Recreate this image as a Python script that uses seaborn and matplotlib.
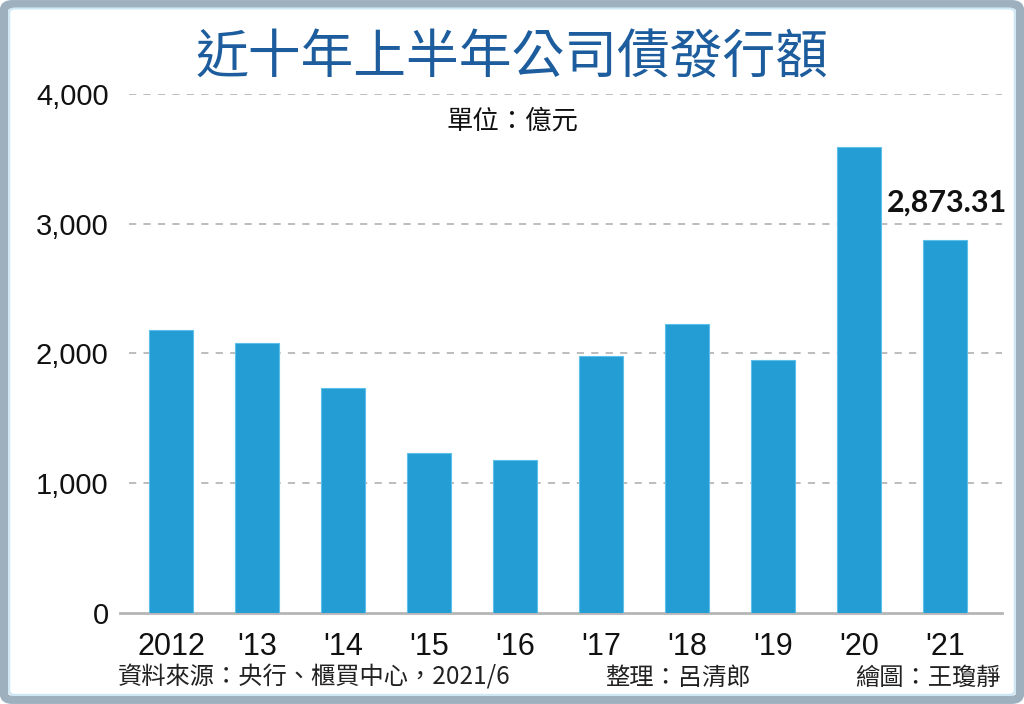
import matplotlib
matplotlib.use("Agg")
import matplotlib.pyplot as plt
from matplotlib.patches import FancyBboxPatch
import seaborn as sns
import pandas as pd

years = ["2012", "'13", "'14", "'15", "'16", "'17", "'18", "'19", "'20", "'21"]
values = [2181, 2081, 1734, 1231, 1179, 1983, 2227, 1948, 3594, 2873.31]
y_ticks = [0, 1000, 2000, 3000, 4000]
y_tick_labels = ["0", "1,000", "2,000", "3,000", "4,000"]
title = "近十年上半年公司債發行額"
unit = "單位：億元"
source = "資料來源：央行、櫃買中心，2021/6"
editor = "整理：呂清郎"
artist = "繪圖：王瓊靜"
highlight = "2,873.31"

sns.set_style("white")
plt.rcParams["font.family"] = ["Noto Sans CJK TC", "DejaVu Sans"]

df = pd.DataFrame({"year": years, "value": values})

fig = plt.figure(figsize=(10.24, 7.04), dpi=100)
fig.patch.set_facecolor("white")

# frame
frame = FancyBboxPatch((0.004, 0.006), 0.992, 0.988, boxstyle="round,pad=0,rounding_size=0.008",
                       transform=fig.transFigure, facecolor="none", edgecolor="#9eb0be",
                       linewidth=6, zorder=0)
fig.patches.append(frame)
frame2 = FancyBboxPatch((0.009, 0.013), 0.982, 0.975, boxstyle="round,pad=0,rounding_size=0.006",
                        transform=fig.transFigure, facecolor="none", edgecolor="#cde8f5",
                        linewidth=1.5, zorder=0)
fig.patches.append(frame2)

ax = fig.add_axes([0.117, 0.1293, 0.862, 0.7372])
sns.barplot(data=df, x="year", y="value", color="#239dd3", width=0.51, saturation=1,
            ax=ax, zorder=3, edgecolor="#5cc0ea", linewidth=0.8)

ax.set_xlim(-0.6, 9.67)
ax.set_ylim(0, 4000)
ax.set_yticks(y_ticks)
num_font = ["Liberation Sans", "DejaVu Sans"]
ax.set_yticklabels(y_tick_labels, fontsize=21, family=num_font, color="#111111")
ax.set_xticks(range(len(years)))
ax.set_xticklabels(years, fontsize=22, family=num_font, color="#111111")
ax.set_xlabel("")
ax.set_ylabel("")

for v in y_ticks[1:]:
    ax.axhline(v, color="#b8b8b8", linestyle=(0, (4, 4)), linewidth=1.3, zorder=1,
               xmin=0.01)
for s in ["top", "right", "left"]:
    ax.spines[s].set_visible(False)
ax.spines["bottom"].set_color("#b5b5b5")
ax.spines["bottom"].set_linewidth(2)
ax.tick_params(axis="y", length=0, pad=8)
ax.tick_params(axis="x", length=10, width=1.2, color="#c0c0c0", direction="out", pad=4)

ax.text(9.03, 2873.31 + 180, highlight, ha="center", va="bottom", fontsize=22,
        fontweight="bold", family=["Lato", "DejaVu Sans"], color="#111111", zorder=5)

fig.text(0.5, 0.918, title, ha="center", va="center", fontsize=38, fontweight="medium",
         color="#1d5d9d")
fig.text(0.5, 0.828, unit, ha="center", va="center", fontsize=19, color="#111111")
fig.text(0.115, 0.037, source, ha="left", va="center", fontsize=17.5, color="#222222")
fig.text(0.591, 0.037, editor, ha="left", va="center", fontsize=17.5, color="#222222")
fig.text(0.977, 0.037, artist, ha="right", va="center", fontsize=17.5, color="#222222")

fig.savefig("out.png", dpi=100, facecolor="white")
